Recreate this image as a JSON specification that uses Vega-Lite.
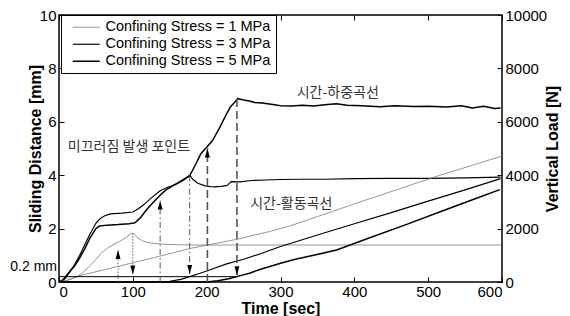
{
  "$schema": "https://vega.github.io/schema/vega-lite/v6.json",
  "autosize": {"type": "none"},
  "padding": {"left": 59, "top": 15, "right": 68, "bottom": 34},
  "width": 443,
  "height": 267,
  "datasets": {
    "loads": [
      {"stress": "Confining Stress = 1 MPa", "t": 0, "load": 0},
      {"stress": "Confining Stress = 1 MPa", "t": 10, "load": 40},
      {"stress": "Confining Stress = 1 MPa", "t": 20, "load": 150},
      {"stress": "Confining Stress = 1 MPa", "t": 30, "load": 300},
      {"stress": "Confining Stress = 1 MPa", "t": 40, "load": 550},
      {"stress": "Confining Stress = 1 MPa", "t": 50, "load": 850},
      {"stress": "Confining Stress = 1 MPa", "t": 58, "load": 1100},
      {"stress": "Confining Stress = 1 MPa", "t": 66, "load": 1280},
      {"stress": "Confining Stress = 1 MPa", "t": 75, "load": 1420},
      {"stress": "Confining Stress = 1 MPa", "t": 82, "load": 1520},
      {"stress": "Confining Stress = 1 MPa", "t": 90, "load": 1650},
      {"stress": "Confining Stress = 1 MPa", "t": 98, "load": 1830},
      {"stress": "Confining Stress = 1 MPa", "t": 102, "load": 1780},
      {"stress": "Confining Stress = 1 MPa", "t": 107, "load": 1650},
      {"stress": "Confining Stress = 1 MPa", "t": 113, "load": 1540},
      {"stress": "Confining Stress = 1 MPa", "t": 120, "load": 1480},
      {"stress": "Confining Stress = 1 MPa", "t": 130, "load": 1440},
      {"stress": "Confining Stress = 1 MPa", "t": 145, "load": 1410},
      {"stress": "Confining Stress = 1 MPa", "t": 165, "load": 1395},
      {"stress": "Confining Stress = 1 MPa", "t": 185, "load": 1385},
      {"stress": "Confining Stress = 1 MPa", "t": 600, "load": 1385},
      {"stress": "Confining Stress = 3 MPa", "t": 0, "load": 0},
      {"stress": "Confining Stress = 3 MPa", "t": 5, "load": 80},
      {"stress": "Confining Stress = 3 MPa", "t": 10, "load": 250},
      {"stress": "Confining Stress = 3 MPa", "t": 15, "load": 420},
      {"stress": "Confining Stress = 3 MPa", "t": 20, "load": 600},
      {"stress": "Confining Stress = 3 MPa", "t": 28, "load": 1000},
      {"stress": "Confining Stress = 3 MPa", "t": 35, "load": 1400},
      {"stress": "Confining Stress = 3 MPa", "t": 42, "load": 1800},
      {"stress": "Confining Stress = 3 MPa", "t": 50, "load": 2200},
      {"stress": "Confining Stress = 3 MPa", "t": 56, "load": 2380},
      {"stress": "Confining Stress = 3 MPa", "t": 62, "load": 2480},
      {"stress": "Confining Stress = 3 MPa", "t": 70, "load": 2550},
      {"stress": "Confining Stress = 3 MPa", "t": 85, "load": 2580},
      {"stress": "Confining Stress = 3 MPa", "t": 100, "load": 2620},
      {"stress": "Confining Stress = 3 MPa", "t": 108, "load": 2750},
      {"stress": "Confining Stress = 3 MPa", "t": 115, "load": 2900},
      {"stress": "Confining Stress = 3 MPa", "t": 125, "load": 3150},
      {"stress": "Confining Stress = 3 MPa", "t": 137, "load": 3420},
      {"stress": "Confining Stress = 3 MPa", "t": 148, "load": 3560},
      {"stress": "Confining Stress = 3 MPa", "t": 158, "load": 3650},
      {"stress": "Confining Stress = 3 MPa", "t": 168, "load": 3800},
      {"stress": "Confining Stress = 3 MPa", "t": 177, "load": 4000},
      {"stress": "Confining Stress = 3 MPa", "t": 181, "load": 3850},
      {"stress": "Confining Stress = 3 MPa", "t": 188, "load": 3700},
      {"stress": "Confining Stress = 3 MPa", "t": 198, "load": 3600},
      {"stress": "Confining Stress = 3 MPa", "t": 209, "load": 3560},
      {"stress": "Confining Stress = 3 MPa", "t": 220, "load": 3580},
      {"stress": "Confining Stress = 3 MPa", "t": 228, "load": 3620},
      {"stress": "Confining Stress = 3 MPa", "t": 233, "load": 3760},
      {"stress": "Confining Stress = 3 MPa", "t": 245, "load": 3750},
      {"stress": "Confining Stress = 3 MPa", "t": 260, "load": 3800},
      {"stress": "Confining Stress = 3 MPa", "t": 280, "load": 3820},
      {"stress": "Confining Stress = 3 MPa", "t": 300, "load": 3840},
      {"stress": "Confining Stress = 3 MPa", "t": 330, "load": 3850},
      {"stress": "Confining Stress = 3 MPa", "t": 360, "load": 3850},
      {"stress": "Confining Stress = 3 MPa", "t": 400, "load": 3870},
      {"stress": "Confining Stress = 3 MPa", "t": 450, "load": 3880},
      {"stress": "Confining Stress = 3 MPa", "t": 500, "load": 3880},
      {"stress": "Confining Stress = 3 MPa", "t": 550, "load": 3900},
      {"stress": "Confining Stress = 3 MPa", "t": 598, "load": 3930},
      {"stress": "Confining Stress = 5 MPa", "t": 0, "load": 0},
      {"stress": "Confining Stress = 5 MPa", "t": 5, "load": 50},
      {"stress": "Confining Stress = 5 MPa", "t": 10, "load": 200},
      {"stress": "Confining Stress = 5 MPa", "t": 15, "load": 400},
      {"stress": "Confining Stress = 5 MPa", "t": 20, "load": 560},
      {"stress": "Confining Stress = 5 MPa", "t": 28, "load": 900},
      {"stress": "Confining Stress = 5 MPa", "t": 35, "load": 1250},
      {"stress": "Confining Stress = 5 MPa", "t": 42, "load": 1650},
      {"stress": "Confining Stress = 5 MPa", "t": 50, "load": 2000},
      {"stress": "Confining Stress = 5 MPa", "t": 55, "load": 2100},
      {"stress": "Confining Stress = 5 MPa", "t": 65, "load": 2130},
      {"stress": "Confining Stress = 5 MPa", "t": 80, "load": 2150},
      {"stress": "Confining Stress = 5 MPa", "t": 95, "load": 2180},
      {"stress": "Confining Stress = 5 MPa", "t": 103, "load": 2220},
      {"stress": "Confining Stress = 5 MPa", "t": 110, "load": 2400},
      {"stress": "Confining Stress = 5 MPa", "t": 120, "load": 2750},
      {"stress": "Confining Stress = 5 MPa", "t": 130, "load": 3050},
      {"stress": "Confining Stress = 5 MPa", "t": 137, "load": 3250},
      {"stress": "Confining Stress = 5 MPa", "t": 145, "load": 3450},
      {"stress": "Confining Stress = 5 MPa", "t": 155, "load": 3620},
      {"stress": "Confining Stress = 5 MPa", "t": 165, "load": 3780},
      {"stress": "Confining Stress = 5 MPa", "t": 177, "load": 3980},
      {"stress": "Confining Stress = 5 MPa", "t": 185, "load": 4400},
      {"stress": "Confining Stress = 5 MPa", "t": 192, "load": 4800},
      {"stress": "Confining Stress = 5 MPa", "t": 200, "load": 5050},
      {"stress": "Confining Stress = 5 MPa", "t": 208, "load": 5300},
      {"stress": "Confining Stress = 5 MPa", "t": 218, "load": 5800},
      {"stress": "Confining Stress = 5 MPa", "t": 227, "load": 6300},
      {"stress": "Confining Stress = 5 MPa", "t": 232, "load": 6550},
      {"stress": "Confining Stress = 5 MPa", "t": 237, "load": 6700},
      {"stress": "Confining Stress = 5 MPa", "t": 242, "load": 6870},
      {"stress": "Confining Stress = 5 MPa", "t": 250, "load": 6820},
      {"stress": "Confining Stress = 5 MPa", "t": 258, "load": 6780},
      {"stress": "Confining Stress = 5 MPa", "t": 265, "load": 6720},
      {"stress": "Confining Stress = 5 MPa", "t": 275, "load": 6700},
      {"stress": "Confining Stress = 5 MPa", "t": 290, "load": 6650},
      {"stress": "Confining Stress = 5 MPa", "t": 300, "load": 6600},
      {"stress": "Confining Stress = 5 MPa", "t": 315, "load": 6590},
      {"stress": "Confining Stress = 5 MPa", "t": 330, "load": 6620},
      {"stress": "Confining Stress = 5 MPa", "t": 345, "load": 6590},
      {"stress": "Confining Stress = 5 MPa", "t": 360, "load": 6640},
      {"stress": "Confining Stress = 5 MPa", "t": 376, "load": 6680},
      {"stress": "Confining Stress = 5 MPa", "t": 390, "load": 6620},
      {"stress": "Confining Stress = 5 MPa", "t": 410, "load": 6600},
      {"stress": "Confining Stress = 5 MPa", "t": 435, "load": 6560},
      {"stress": "Confining Stress = 5 MPa", "t": 455, "load": 6600},
      {"stress": "Confining Stress = 5 MPa", "t": 480, "load": 6570},
      {"stress": "Confining Stress = 5 MPa", "t": 500, "load": 6580},
      {"stress": "Confining Stress = 5 MPa", "t": 525, "load": 6550},
      {"stress": "Confining Stress = 5 MPa", "t": 545, "load": 6600},
      {"stress": "Confining Stress = 5 MPa", "t": 560, "load": 6520},
      {"stress": "Confining Stress = 5 MPa", "t": 575, "load": 6580},
      {"stress": "Confining Stress = 5 MPa", "t": 590, "load": 6500},
      {"stress": "Confining Stress = 5 MPa", "t": 598, "load": 6520}
    ],
    "slides": [
      {"stress": "Confining Stress = 1 MPa", "t": 0, "dist": 0},
      {"stress": "Confining Stress = 1 MPa", "t": 15, "dist": 0.1},
      {"stress": "Confining Stress = 1 MPa", "t": 30, "dist": 0.25},
      {"stress": "Confining Stress = 1 MPa", "t": 60, "dist": 0.45},
      {"stress": "Confining Stress = 1 MPa", "t": 100, "dist": 0.72},
      {"stress": "Confining Stress = 1 MPa", "t": 137, "dist": 0.97},
      {"stress": "Confining Stress = 1 MPa", "t": 180, "dist": 1.27},
      {"stress": "Confining Stress = 1 MPa", "t": 241, "dist": 1.6},
      {"stress": "Confining Stress = 1 MPa", "t": 285, "dist": 1.89},
      {"stress": "Confining Stress = 1 MPa", "t": 313, "dist": 2.1},
      {"stress": "Confining Stress = 1 MPa", "t": 350, "dist": 2.45},
      {"stress": "Confining Stress = 1 MPa", "t": 408, "dist": 3.0},
      {"stress": "Confining Stress = 1 MPa", "t": 460, "dist": 3.48},
      {"stress": "Confining Stress = 1 MPa", "t": 516, "dist": 4.0},
      {"stress": "Confining Stress = 1 MPa", "t": 560, "dist": 4.37},
      {"stress": "Confining Stress = 1 MPa", "t": 600, "dist": 4.72},
      {"stress": "Confining Stress = 3 MPa", "t": 0, "dist": 0},
      {"stress": "Confining Stress = 3 MPa", "t": 137, "dist": 0},
      {"stress": "Confining Stress = 3 MPa", "t": 150, "dist": 0.03},
      {"stress": "Confining Stress = 3 MPa", "t": 165, "dist": 0.1},
      {"stress": "Confining Stress = 3 MPa", "t": 177, "dist": 0.2},
      {"stress": "Confining Stress = 3 MPa", "t": 190, "dist": 0.32},
      {"stress": "Confining Stress = 3 MPa", "t": 204, "dist": 0.45},
      {"stress": "Confining Stress = 3 MPa", "t": 227, "dist": 0.68},
      {"stress": "Confining Stress = 3 MPa", "t": 250, "dist": 0.85},
      {"stress": "Confining Stress = 3 MPa", "t": 272, "dist": 1.05},
      {"stress": "Confining Stress = 3 MPa", "t": 299, "dist": 1.32},
      {"stress": "Confining Stress = 3 MPa", "t": 350, "dist": 1.76},
      {"stress": "Confining Stress = 3 MPa", "t": 400, "dist": 2.18},
      {"stress": "Confining Stress = 3 MPa", "t": 450, "dist": 2.6},
      {"stress": "Confining Stress = 3 MPa", "t": 500, "dist": 3.03},
      {"stress": "Confining Stress = 3 MPa", "t": 550, "dist": 3.45},
      {"stress": "Confining Stress = 3 MPa", "t": 598, "dist": 3.87},
      {"stress": "Confining Stress = 5 MPa", "t": 0, "dist": 0},
      {"stress": "Confining Stress = 5 MPa", "t": 200, "dist": 0},
      {"stress": "Confining Stress = 5 MPa", "t": 215, "dist": 0.05},
      {"stress": "Confining Stress = 5 MPa", "t": 230, "dist": 0.12},
      {"stress": "Confining Stress = 5 MPa", "t": 243, "dist": 0.22},
      {"stress": "Confining Stress = 5 MPa", "t": 258, "dist": 0.33},
      {"stress": "Confining Stress = 5 MPa", "t": 272, "dist": 0.47},
      {"stress": "Confining Stress = 5 MPa", "t": 299, "dist": 0.69},
      {"stress": "Confining Stress = 5 MPa", "t": 320, "dist": 0.85},
      {"stress": "Confining Stress = 5 MPa", "t": 345, "dist": 1.0},
      {"stress": "Confining Stress = 5 MPa", "t": 376, "dist": 1.2},
      {"stress": "Confining Stress = 5 MPa", "t": 420, "dist": 1.65},
      {"stress": "Confining Stress = 5 MPa", "t": 470, "dist": 2.15},
      {"stress": "Confining Stress = 5 MPa", "t": 520, "dist": 2.67},
      {"stress": "Confining Stress = 5 MPa", "t": 560, "dist": 3.08},
      {"stress": "Confining Stress = 5 MPa", "t": 597, "dist": 3.46}
    ],
    "arrows": [
      {"t": 80, "y1": 0, "y2": 1.2, "tip": 1.2, "dir": "up", "style": "dot"},
      {"t": 100, "y1": 1.83, "y2": 0.28, "tip": 0.28, "dir": "down", "style": "dot"},
      {"t": 137, "y1": 0, "y2": 3.05, "tip": 3.05, "dir": "up", "style": "dashdot"},
      {"t": 177, "y1": 4.0, "y2": 0.3, "tip": 0.3, "dir": "down", "style": "dashdot"},
      {"t": 201, "y1": 0, "y2": 5.0, "tip": 5.0, "dir": "up", "style": "dash"},
      {"t": 241, "y1": 6.85, "y2": 0.25, "tip": 0.25, "dir": "down", "style": "dash"}
    ],
    "threshold": [{"t1": 0, "t2": 243, "y": 0.2}],
    "labels": [
      {"t": 12, "y": 5.05, "text": "미끄러짐 발생 포인트"},
      {"t": 322, "y": 7.09, "text": "시간-하중곡선"},
      {"t": 259, "y": 2.94, "text": "시간-활동곡선"}
    ],
    "mm": [{"t": 0, "y": 0.56, "text": "0.2 mm"}]
  },
  "layer": [
    {
      "data": {"name": "loads"},
      "mark": {"type": "line", "strokeJoin": "round"},
      "encoding": {
        "x": {"field": "t", "type": "quantitative", "scale": {"domain": [0, 600], "nice": false},
          "axis": {"orient": "bottom", "title": "Time [sec]", "values": [0, 100, 200, 300, 400, 500, 600], "labelPadding": 7, "titlePadding": 1}},
        "y": {"field": "load", "type": "quantitative", "scale": {"domain": [0, 10000], "nice": false},
          "axis": {"orient": "right", "title": "Vertical Load [N]", "values": [0, 2000, 4000, 6000, 8000, 10000], "format": "d", "titleAngle": 270, "labelPadding": 8, "titlePadding": 14}},
        "color": {"field": "stress", "type": "ordinal", "scale": {"domain": ["Confining Stress = 1 MPa", "Confining Stress = 3 MPa", "Confining Stress = 5 MPa"], "range": ["#7a7a7a", "#000000", "#000000"]}},
        "strokeWidth": {"field": "stress", "type": "ordinal", "scale": {"domain": ["Confining Stress = 1 MPa", "Confining Stress = 3 MPa", "Confining Stress = 5 MPa"], "range": [0.8, 1.5, 3]}},
        "order": {"field": "t", "type": "quantitative"}
      }
    },
    {
      "data": {"name": "slides"},
      "mark": {"type": "line", "strokeJoin": "round"},
      "encoding": {
        "x": {"field": "t", "type": "quantitative", "scale": {"domain": [0, 600], "nice": false},
          "axis": {"orient": "top", "labels": false, "title": null, "values": [0, 100, 200, 300, 400, 500, 600]}},
        "y": {"field": "dist", "type": "quantitative", "scale": {"domain": [0, 10], "nice": false},
          "axis": {"orient": "left", "title": "Sliding Distance [mm]", "values": [0, 2, 4, 6, 8, 10], "labelPadding": 8, "titlePadding": -4}},
        "color": {"field": "stress", "type": "ordinal", "scale": {"domain": ["Confining Stress = 1 MPa", "Confining Stress = 3 MPa", "Confining Stress = 5 MPa"], "range": ["#7a7a7a", "#000000", "#000000"]},
          "legend": {"orient": "none", "legendX": 2, "legendY": 0, "title": null, "symbolType": "M-3,0L3,0", "symbolSize": 81, "symbolOffset": 13, "labelOffset": 12, "labelFontSize": 14.5, "labelFont": "Liberation Sans", "labelColor": "black", "padding": 5, "rowPadding": 2, "strokeColor": "black", "fillColor": "white", "symbolFillColor": "transparent", "labelLimit": 300}},
        "strokeWidth": {"field": "stress", "type": "ordinal", "scale": {"domain": ["Confining Stress = 1 MPa", "Confining Stress = 3 MPa", "Confining Stress = 5 MPa"], "range": [0.8, 1.5, 3]}},
        "order": {"field": "t", "type": "quantitative"}
      }
    },
    {
      "data": {"name": "threshold"},
      "mark": {"type": "rule", "color": "black", "strokeWidth": 1},
      "encoding": {
        "x": {"field": "t1", "type": "quantitative", "scale": {"domain": [0, 600], "nice": false}, "axis": null},
        "x2": {"field": "t2"},
        "y": {"field": "y", "type": "quantitative", "scale": {"domain": [0, 10], "nice": false}, "axis": null}
      }
    },
    {
      "data": {"name": "arrows"},
      "transform": [{"filter": "datum.style === 'dot'"}],
      "mark": {"type": "rule", "color": "#666666", "strokeWidth": 1, "strokeDash": [1.5, 1.5]},
      "encoding": {
        "x": {"field": "t", "type": "quantitative", "scale": {"domain": [0, 600], "nice": false}, "axis": null},
        "y": {"field": "y1", "type": "quantitative", "scale": {"domain": [0, 10], "nice": false}, "axis": null},
        "y2": {"field": "y2"}
      }
    },
    {
      "data": {"name": "arrows"},
      "transform": [{"filter": "datum.style === 'dashdot'"}],
      "mark": {"type": "rule", "color": "#555555", "strokeWidth": 1, "strokeDash": [6, 3, 1.5, 3]},
      "encoding": {
        "x": {"field": "t", "type": "quantitative", "scale": {"domain": [0, 600], "nice": false}, "axis": null},
        "y": {"field": "y1", "type": "quantitative", "scale": {"domain": [0, 10], "nice": false}, "axis": null},
        "y2": {"field": "y2"}
      }
    },
    {
      "data": {"name": "arrows"},
      "transform": [{"filter": "datum.style === 'dash'"}],
      "mark": {"type": "rule", "color": "#555555", "strokeWidth": 1.6, "strokeDash": [8, 4]},
      "encoding": {
        "x": {"field": "t", "type": "quantitative", "scale": {"domain": [0, 600], "nice": false}, "axis": null},
        "y": {"field": "y1", "type": "quantitative", "scale": {"domain": [0, 10], "nice": false}, "axis": null},
        "y2": {"field": "y2"}
      }
    },
    {
      "data": {"name": "arrows"},
      "mark": {"type": "point", "filled": true, "color": "black", "size": 81, "opacity": 1},
      "encoding": {
        "x": {"field": "t", "type": "quantitative", "scale": {"domain": [0, 600], "nice": false}, "axis": null},
        "y": {"field": "tip", "type": "quantitative", "scale": {"domain": [0, 10], "nice": false}, "axis": null},
        "shape": {"field": "dir", "type": "nominal", "scale": {"domain": ["up", "down"], "range": ["M0,0L-0.55,2L0.55,2Z", "M0,0L-0.55,-2L0.55,-2Z"]}, "legend": null}
      }
    },
    {
      "data": {"name": "labels"},
      "mark": {"type": "text", "align": "left", "baseline": "middle", "font": "Noto Sans CJK KR", "fontSize": 14, "color": "#333333"},
      "encoding": {
        "x": {"field": "t", "type": "quantitative", "scale": {"domain": [0, 600], "nice": false}, "axis": null},
        "y": {"field": "y", "type": "quantitative", "scale": {"domain": [0, 10], "nice": false}, "axis": null},
        "text": {"field": "text"}
      }
    },
    {
      "data": {"name": "mm"},
      "mark": {"type": "text", "align": "right", "baseline": "middle", "font": "Liberation Sans", "fontSize": 14, "color": "black", "dx": -2},
      "encoding": {
        "x": {"field": "t", "type": "quantitative", "scale": {"domain": [0, 600], "nice": false}, "axis": null},
        "y": {"field": "y", "type": "quantitative", "scale": {"domain": [0, 10], "nice": false}, "axis": null},
        "text": {"field": "text"}
      }
    }
  ],
  "resolve": {"scale": {"y": "independent"}, "axis": {"x": "independent"}},
  "config": {
    "font": "Liberation Sans",
    "view": {"stroke": "black", "strokeWidth": 1.5},
    "axis": {
      "grid": false, "domain": false, "tickColor": "black", "tickSize": -5, "tickWidth": 1,
      "labelColor": "black", "labelFontSize": 15, "labelFont": "Liberation Sans",
      "titleColor": "black", "titleFontSize": 16, "titleFontWeight": "bold", "titleFont": "Liberation Sans"
    }
  }
}
